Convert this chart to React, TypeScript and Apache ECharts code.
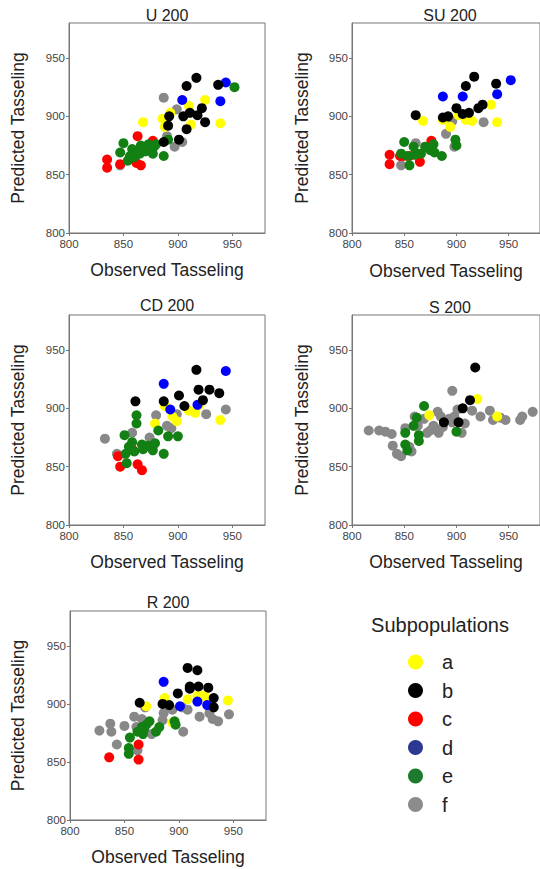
import React, { useEffect, useRef } from "react";
import * as echarts from "echarts";

// ---------- data ----------
const panelTitles = ["U 200", "SU 200", "CD 200", "S 200", "R 200"];
const subpops = ["a", "b", "c", "d", "e", "f"];
const xTicks = [800, 850, 900, 950];
const yTicks = [800, 850, 900, 950];

// U 200
const u200_a = [[868,895],[886,898],[888,891],[893,903],[910,909],[912,893],[925,914],[939,894]];
const u200_b = [[887,878],[891,892],[892,900],[901,880],[908,889],[905,900],[911,903],[918,901],[922,907],[925,895],[908,926],[917,933],[937,927]];
const u200_c = [[835,863],[835,856],[847,859],[863,883],[862,860],[866,858],[877,879]];
const u200_d = [[904,914],[939,913],[944,929]];
const u200_e = [[850,877],[847,869],[854,862],[856,866],[858,872],[860,865],[862,870],[865,868],[866,875],[870,874],[870,870],[873,876],[877,868],[878,874],[880,876],[887,866],[891,880],[952,925]];
const u200_f = [[847,858],[887,916],[890,883],[897,874],[899,906],[904,878]];

// SU 200
const su200_a = [[868,896],[887,897],[894,891],[902,901],[909,897],[915,896],[933,910],[939,895]];
const su200_b = [[861,901],[887,899],[892,900],[900,907],[906,902],[909,926],[912,903],[917,934],[921,907],[925,910],[938,928]];
const su200_c = [[836,867],[836,859],[849,866],[855,866],[865,861],[876,879],[846,866]];
const su200_d = [[887,917],[906,917],[939,919],[952,931]];
const su200_e = [[850,878],[847,868],[853,866],[855,858],[859,874],[862,868],[866,868],[870,874],[875,871],[878,876],[879,869],[886,866],[899,880],[900,875],[860,867]];
const su200_f = [[847,858],[861,877],[890,885],[896,896],[898,874],[926,895]];

// CD 200
const cd200_a = [[879,887],[888,902],[895,893],[899,889],[910,898],[916,896],[920,903],[939,890]];
const cd200_b = [[861,906],[887,906],[901,911],[906,902],[917,933],[919,916],[929,916],[923,907],[938,913]];
const cd200_c = [[847,850],[863,852],[867,847],[859,864],[845,859]];
const cd200_d = [[887,921],[893,899],[918,903],[944,932]];
const cd200_e = [[851,877],[852,861],[853,853],[858,871],[860,863],[862,887],[862,894],[867,869],[868,865],[873,868],[877,864],[879,870],[882,881],[887,861],[891,876],[900,876],[855,867]];
const cd200_f = [[833,874],[844,861],[858,879],[880,894],[874,875],[890,885],[894,883],[899,895],[926,895],[944,899]];

// S 200
const s200_a = [[874,894],[920,908],[939,893]];
const s200_b = [[918,935],[913,907],[906,900],[888,888],[902,888]];
const s200_c: number[][] = [];
const s200_d: number[][] = [];
const s200_e = [[851,879],[851,869],[853,864],[859,885],[862,892],[864,877],[864,872],[869,902],[900,880]];
const s200_f = [[816,881],[826,881],[832,880],[838,878],[839,868],[843,861],[847,859],[851,883],[855,867],[857,863],[860,893],[863,885],[869,891],[872,879],[875,881],[878,885],[882,897],[885,893],[883,879],[887,884],[893,891],[896,915],[896,888],[898,893],[901,899],[905,879],[908,887],[915,898],[923,893],[932,898],[935,890],[942,892],[947,890],[961,890],[963,893],[973,897]];

// R 200
const r200_a = [[870,898],[887,905],[894,884],[908,904],[917,907],[922,907],[926,905],[945,903]];
const r200_b = [[864,901],[885,900],[891,899],[899,909],[908,931],[917,929],[910,913],[918,915],[927,914],[932,905],[932,897],[910,915]];
const r200_c = [[836,854],[863,865],[863,852]];
const r200_d = [[886,919],[901,898],[917,902],[926,899]];
const r200_e = [[855,871],[854,862],[854,857],[862,876],[866,880],[867,874],[870,882],[873,885],[879,876],[882,880],[896,885],[897,882],[868,878]];
const r200_f = [[827,877],[837,883],[838,876],[843,865],[850,881],[859,889],[869,897],[866,887],[861,880],[875,874],[885,886],[886,892],[894,895],[903,897],[904,876],[908,895],[919,889],[928,892],[931,887],[936,885],[946,891],[862,860]];

const panelData = [
  { a: u200_a, b: u200_b, c: u200_c, d: u200_d, e: u200_e, f: u200_f },
  { a: su200_a, b: su200_b, c: su200_c, d: su200_d, e: su200_e, f: su200_f },
  { a: cd200_a, b: cd200_b, c: cd200_c, d: cd200_d, e: cd200_e, f: cd200_f },
  { a: s200_a, b: s200_b, c: s200_c, d: s200_d, e: s200_e, f: s200_f },
  { a: r200_a, b: r200_b, c: r200_c, d: r200_d, e: r200_e, f: r200_f },
];

// ---------- styles ----------
const pointColors: Record<string, string> = {
  a: "#ffff00", b: "#000000", c: "#ff0000", d: "#0000ff", e: "#128012", f: "#888888",
};
const legendColors: Record<string, string> = {
  a: "#ffff00", b: "#000000", c: "#ff0000", d: "#2b3990", e: "#1e7b2e", f: "#8c8c8c",
};
const drawOrder = ["f", "a", "c", "e", "d", "b"];

const grids = [
  { left: 69, top: 23, width: 196, height: 210 },
  { left: 352, top: 23, width: 196, height: 210 },
  { left: 69, top: 315, width: 196, height: 210 },
  { left: 352, top: 315, width: 196, height: 210 },
  { left: 70, top: 611, width: 196, height: 209 },
];
const titleY = [15, 15, 305, 307, 602];
const yNameGap = [42, 41, 42, 41, 43];
const xNameGap = [28, 29, 28, 28, 28];
const FONT = "Liberation Sans, Arial, sans-serif";

export default function App() {
  const ref = useRef<HTMLDivElement>(null);
  useEffect(() => {
    if (!ref.current) return;
    const chart = echarts.init(ref.current, undefined, { renderer: "svg" });

    const xAxes = grids.map((_, i) => ({
      type: "value",
      gridIndex: i,
      min: 800,
      max: 980,
      interval: 50,
      name: "Observed Tasseling",
      nameLocation: "middle",
      nameGap: xNameGap[i],
      nameTextStyle: { fontSize: 17.5, color: "#222", fontFamily: FONT },
      axisLine: { show: true, lineStyle: { color: "#777", width: 1 } },
      axisTick: { show: true, length: 3, lineStyle: { color: "#777" } },
      axisLabel: {
        showMaxLabel: false,
        fontSize: 11.5,
        color: "#444",
        fontFamily: FONT,
        margin: 5,
        formatter: (v: number) => (xTicks.includes(v) ? String(v) : ""),
      },
      splitLine: { show: false },
    }));
    const yAxes = grids.map((_, i) => ({
      type: "value",
      gridIndex: i,
      min: 800,
      max: 980,
      interval: 50,
      name: "Predicted Tasseling",
      nameLocation: "middle",
      nameGap: yNameGap[i],
      nameTextStyle: { fontSize: 17.5, color: "#222", fontFamily: FONT },
      axisLine: { show: true, lineStyle: { color: "#777", width: 1 } },
      axisTick: { show: true, length: 3, lineStyle: { color: "#777" } },
      axisLabel: {
        showMaxLabel: false,
        fontSize: 11.5,
        color: "#444",
        fontFamily: FONT,
        margin: 4,
        formatter: (v: number) => (yTicks.includes(v) ? String(v) : ""),
      },
      splitLine: { show: false },
    }));

    const series: any[] = [];
    panelData.forEach((pd: any, i) => {
      drawOrder.forEach((k) => {
        series.push({
          type: "scatter",
          name: k,
          xAxisIndex: i,
          yAxisIndex: i,
          data: pd[k],
          symbol: "circle",
          symbolSize: 10,
          itemStyle: { color: pointColors[k], opacity: 1 },
          emphasis: { disabled: true },
        });
      });
    });

    const graphics: any[] = panelTitles.map((t, i) => ({
      type: "text",
      x: grids[i].left + grids[i].width / 2,
      y: titleY[i],
      style: {
        text: t,
        fill: "#222",
        font: `16px ${FONT}`,
        textAlign: "center",
        textVerticalAlign: "middle",
      },
    }));
    graphics.push({
      type: "text",
      x: 440,
      y: 625,
      style: {
        text: "Subpopulations",
        fill: "#222",
        font: `20px ${FONT}`,
        textAlign: "center",
        textVerticalAlign: "middle",
      },
    });

    chart.setOption({
      animation: false,
      backgroundColor: "#ffffff",
      grid: grids.map((g) => ({ ...g, show: true, borderColor: "#777", borderWidth: 1, backgroundColor: "transparent" })),
      xAxis: xAxes,
      yAxis: yAxes,
      series,
      graphic: graphics,
      legend: {
        orient: "vertical",
        left: 408,
        top: 652,
        padding: 0,
        itemWidth: 15,
        itemHeight: 15,
        itemGap: 8.5,
        icon: "circle",
        selectedMode: false,
        data: subpops.map((k) => ({ name: k, itemStyle: { color: legendColors[k] } })),
        textStyle: { fontSize: 20, color: "#222", fontFamily: FONT, lineHeight: 20, padding: [0, 0, 0, 14] },
      },
    });
    return () => chart.dispose();
  }, []);

  return (
    <div
      ref={ref}
      style={{ position: "fixed", left: 0, top: 0, width: 540, height: 869, background: "#fff" }}
    />
  );
}
